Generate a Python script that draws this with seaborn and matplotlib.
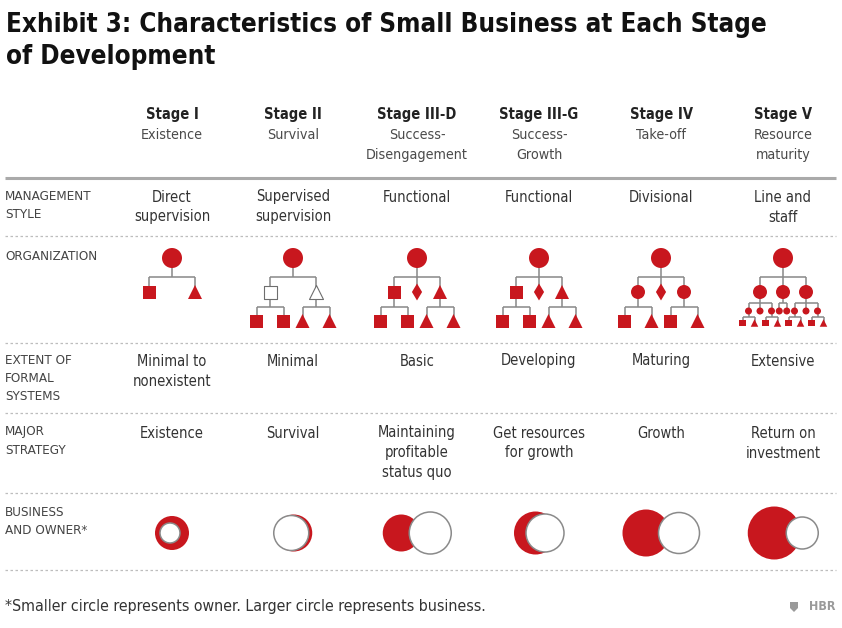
import matplotlib
matplotlib.use("Agg")
import matplotlib.pyplot as plt
import seaborn as sns
import pandas as pd
from matplotlib import font_manager as fm
from matplotlib.patches import Circle

# ---- data ----
stages = ["Stage I", "Stage II", "Stage III-D", "Stage III-G", "Stage IV", "Stage V"]
stage_names = ["Existence", "Survival", "Success-\nDisengagement", "Success-\nGrowth",
               "Take-off", "Resource\nmaturity"]
management_style = ["Direct\nsupervision", "Supervised\nsupervision", "Functional",
                    "Functional", "Divisional", "Line and\nstaff"]
formal_systems = ["Minimal to\nnonexistent", "Minimal", "Basic", "Developing",
                  "Maturing", "Extensive"]
major_strategy = ["Existence", "Survival", "Maintaining\nprofitable\nstatus quo",
                  "Get resources\nfor growth", "Growth", "Return on\ninvestment"]
row_labels = ["MANAGEMENT\nSTYLE", "ORGANIZATION", "EXTENT OF\nFORMAL\nSYSTEMS",
              "MAJOR\nSTRATEGY", "BUSINESS\nAND OWNER*"]

# org charts: s square, t triangle, d diamond, o circle (upper case = hollow)
org_level1 = [["s", "t"], ["S", "T"], ["s", "d", "t"], ["s", "d", "t"],
              ["o", "d", "o"], ["o", "o", "o"]]
org_level2 = [[[], []],
              [["s", "s"], ["t", "t"]],
              [["s", "s"], [], ["t", "t"]],
              [["s", "s"], [], ["t", "t"]],
              [["s", "t"], [], ["s", "t"]],
              [["o", "o", "o"], ["o", "o"], ["o", "o", "o"]]]
# stage V: which small circles have a square/triangle pair below them
org_level3 = [[True, False, True], [False, False], [True, False, True]]

# business / owner circles (radius) and where the owner sits relative to the business
business_size = [17, 18.5, 18.5, 21.5, 23.5, 26.5]
owner_size = [10, 17.5, 21, 19, 20.5, 16]
owner_offset = [-2, -2.5, 29, 9.5, 33, 28]

footnote = "*Smaller circle represents owner. Larger circle represents business."

# ---- style ----
sns.set_theme(style="white")
names = {f.name for f in fm.fontManager.ttflist}
cond = [f for f in fm.fontManager.ttflist
        if f.name == "DejaVu Sans" and "condensed" in str(f.stretch)]
if "Liberation Sans Narrow" in names:
    body = dict(family="Liberation Sans Narrow")
elif cond:
    body = dict(family="DejaVu Sans", fontstretch="condensed")
else:
    body = dict(family="Roboto")
plt.rcParams["font.family"] = ["DejaVu Sans"]

red = "#C8171E"
grey_line = "#888888"
txt = "#333333"

col_x = [172, 293, 417, 539, 661, 783]

fig = plt.figure(figsize=(8.42, 6.28), dpi=100)
ax = fig.add_axes([0, 0, 1, 1])


def lines(x, y, s, step, **kw):
    for k, part in enumerate(s.split("\n")):
        ax.text(x, y + k * step, part, va="center", **kw)


# title
ax.text(6, 32, "Exhibit 3: Characteristics of Small Business at Each Stage",
        fontsize=18.6, fontweight="bold", color="#111111", va="baseline", **body)
ax.text(6, 64, "of Development", fontsize=18.6, fontweight="bold", color="#111111",
        va="baseline", **body)

# column headers
for i, x in enumerate(col_x):
    ax.text(x, 115, stages[i], ha="center", va="center", fontsize=10.5,
            fontweight="bold", color="#222222", **body)
    lines(x, 135, stage_names[i], 20, ha="center", fontsize=10.3, color="#4a4a4a", **body)

# separators
ax.plot([5, 836], [178, 178], color="#aaaaaa", lw=2.2, solid_capstyle="butt")
for y in [236, 343, 413, 493, 570]:
    ax.plot([5, 836], [y, y], color="#bdbdbd", lw=0.9, ls=(0, (2, 2)))

# row labels
label_y = [197, 256, 360, 432, 512]
for lab, y in zip(row_labels, label_y):
    lines(5, y, lab, 18, ha="left", fontsize=9.6, color="#444444", **body)

# text rows
for i, x in enumerate(col_x):
    lines(x, 197, management_style[i], 20, ha="center", fontsize=10.5, color=txt, **body)
    lines(x, 361, formal_systems[i], 20, ha="center", fontsize=10.5, color=txt, **body)
    lines(x, 433, major_strategy[i], 20, ha="center", fontsize=10.5, color=txt, **body)

# ---- org charts ----
nodes = []
segs = []


def link(px, py, kids, bar_y, kid_y):
    segs.append(([px, px], [py, bar_y]))
    segs.append(([min(kids), max(kids)], [bar_y, bar_y]))
    for kx in kids:
        segs.append(([kx, kx], [bar_y, kid_y]))


for i, x in enumerate(col_x):
    nodes.append((x, 258, "o", 20, False))
    l1 = org_level1[i]
    n1 = len(l1)
    xs1 = [x - 23 + 46 * k / (n1 - 1) for k in range(n1)]
    link(x, 258, xs1, 277, 292)
    small = i == len(col_x) - 1
    for k, (shape, x1) in enumerate(zip(l1, xs1)):
        size = {"o": 14, "s": 13, "t": 14, "d": 12}[shape.lower()]
        nodes.append((x1, 292, shape.lower(), size, shape.isupper()))
        kids = org_level2[i][k]
        if not kids:
            continue
        if small:
            gap = 11.5 if len(kids) > 2 else 7.5
            xs2 = [x1 + (j - (len(kids) - 1) / 2) * gap for j in range(len(kids))]
            link(x1, 292, xs2, 303, 311)
            for j, x2 in enumerate(xs2):
                nodes.append((x2, 311, "o", 7, False))
                if org_level3[k][j]:
                    link(x2, 311, [x2 - 6, x2 + 6], 317, 323)
                    nodes.append((x2 - 6, 323, "s", 6.5, False))
                    nodes.append((x2 + 6, 323, "t", 7.5, False))
        else:
            xs2 = [x1 - 13.5, x1 + 13.5]
            link(x1, 292, xs2, 307, 321)
            for s2, x2 in zip(kids, xs2):
                size = {"o": 14, "s": 13, "t": 14, "d": 12}[s2]
                nodes.append((x2, 321, s2, size, False))

for sx, sy in segs:
    ax.plot(sx, sy, color=grey_line, lw=1.1, zorder=2, solid_capstyle="butt")

node_df = pd.DataFrame(nodes, columns=["x", "y", "shape", "size", "hollow"])
markers = {"o": "o", "s": "s", "t": "^", "d": "d"}
for (shape, size, hollow), grp in node_df.groupby(["shape", "size", "hollow"]):
    sns.scatterplot(data=grp, x="x", y="y", marker=markers[shape],
                    s=(size * 0.72) ** 2, color="white" if hollow else red,
                    edgecolor="#6e6e6e" if hollow else "none",
                    linewidth=0.8 if hollow else 0, ax=ax, legend=False, zorder=4)

# ---- business and owner ----
for i, x in enumerate(col_x):
    br, orr, off = business_size[i], owner_size[i], owner_offset[i]
    left = min(-br, off - orr)
    right = max(br, off + orr)
    bx = x - (left + right) / 2
    ax.add_patch(Circle((bx, 533), br, facecolor=red, edgecolor="none", zorder=3))
    ax.add_patch(Circle((bx + off, 533), orr, facecolor="white", edgecolor="#8a8a8a",
                        lw=1.1, zorder=4))

# footnote and logo
ax.text(5, 607, footnote, va="center", fontsize=11.4, color="#333333", **body)
ax.text(836, 607, "HBR", ha="right", va="center", fontsize=9, fontweight="bold",
        color="#9a9a9a", **body)
ax.fill([790, 798, 798, 794, 790], [602, 602, 608, 612, 608], color="#9a9a9a", lw=0)

ax.set_xlim(0, 842)
ax.set_ylim(628, 0)
ax.set_aspect("auto")
ax.axis("off")
fig.savefig("out.png", dpi=100, facecolor="white")
